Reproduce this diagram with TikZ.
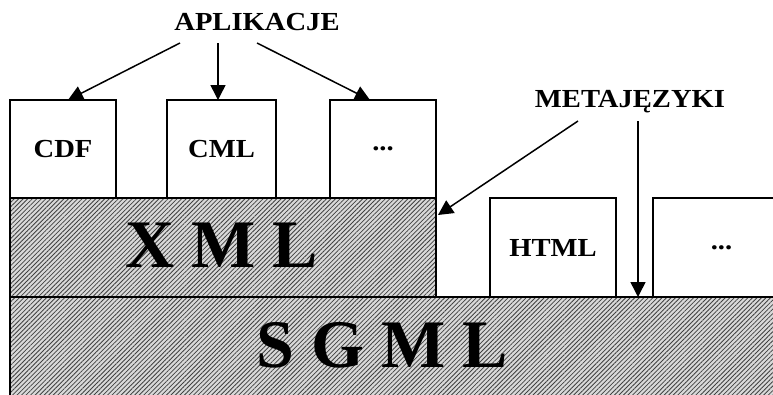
\documentclass[tikz,border=0pt]{standalone}
\usepackage{fontspec}
\setmainfont{Liberation Serif}
\newfontfamily\lblfont[FakeStretch=1.1]{Liberation Serif}
\usetikzlibrary{arrows.meta,patterns.meta,calc}
\tikzset{
  box/.style={draw=black,line width=2pt,fill=white,inner sep=0pt,outer sep=0pt},
  hatch/.style={draw=black,line width=2pt,inner sep=0pt,outer sep=0pt,
    preaction={fill=gray!30},
    pattern={Lines[angle=45,distance=3.2pt,line width=0.8pt]},pattern color=black!75},
  lbl/.style={font=\lblfont\fontsize{26}{28}\selectfont\bfseries},
  biglbl/.style={font=\fontsize{68}{70}\selectfont\bfseries},
  arr/.style={line width=1.5pt,-{Triangle[width=15pt,length=15pt]}}
}
\begin{document}
\begin{tikzpicture}[x=1pt,y=-1pt]
\useasboundingbox (0,0) rectangle (773,394);
\clip (0,0) rectangle (773,394);
% layers
\node[hatch,minimum width=780pt,minimum height=103pt] (sgml) at (400,348.5) {};
\node[biglbl] at (382,345) {S G M L};
\node[hatch,minimum width=426pt,minimum height=99pt] (xml) at (223,247.5) {};
\node[biglbl] at (222,245) {X M L};
% application boxes
\node[box,lbl,minimum width=106pt,minimum height=98pt] (cdf) at (63,149) {CDF};
\node[box,lbl,minimum width=109pt,minimum height=98pt] (cml) at (221.5,149) {CML};
\node[box,lbl,minimum width=106pt,minimum height=98pt] (dots1) at (383,149) {...};
% metalanguage boxes
\node[box,lbl,minimum width=126pt,minimum height=99pt] (html) at (553,247.5) {HTML};
\node[box,lbl,minimum width=137pt,minimum height=99pt] (dots2) at (721.5,247.5) {...};
% labels
\node[lbl] (aplik) at (257,22) {APLIKACJE};
\node[lbl] (meta) at (630,102) {METAJĘZYKI};
% arrows
\coordinate (a1) at (180,43);
\coordinate (a2) at (218,43);
\coordinate (a3) at (257,43);
\coordinate (m1) at (578,121);
\coordinate (m2) at (638,121);
\draw[arr] (a1) -- ([xshift=5pt]cdf.north);
\draw[arr] (a2) -- (a2 |- cml.north);
\draw[arr] (a3) -- ([xshift=-13pt]dots1.north);
\draw[arr] (m1) -- ($(xml.north east)+(2,17)$);
\draw[arr] (m2) -- (m2 |- sgml.north);
\end{tikzpicture}
\end{document}
